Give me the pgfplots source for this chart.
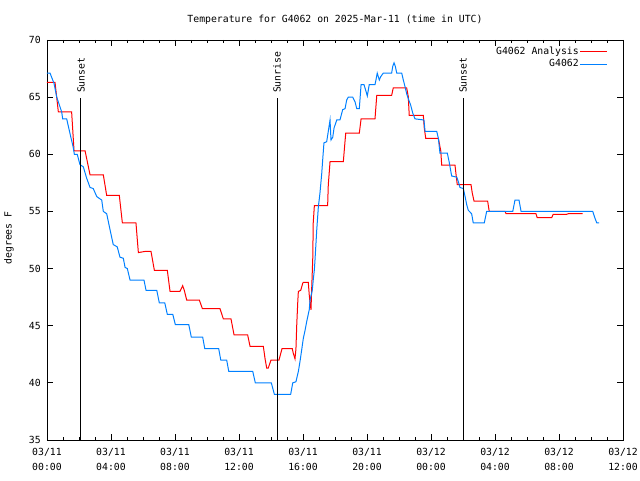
\documentclass[border=0pt]{standalone}
\usepackage{fontspec}
\setmainfont{DejaVu Sans Mono}
\usepackage{pgfplots}
\pgfplotsset{compat=1.18}
\definecolor{gred}{RGB}{255,0,0}
\definecolor{gblue}{RGB}{0,128,255}
\begin{document}
\fontsize{9.8}{11}\selectfont
\begin{tikzpicture}[x=1pt,y=1pt,font=\fontsize{9.8}{11}\selectfont]
\useasboundingbox (0,0) rectangle (640,480);
\begin{axis}[
  at={(47pt,40pt)}, anchor=south west,
  scale only axis, width=576pt, height=400pt,
  xmin=0, xmax=36, ymin=35, ymax=70,
  xtick={0,4,...,36}, minor x tick num=3,
  xticklabels={03/11\\00:00,03/11\\04:00,03/11\\08:00,03/11\\12:00,03/11\\16:00,03/11\\20:00,03/12\\00:00,03/12\\04:00,03/12\\08:00,03/12\\12:00},
  ytick={35,40,...,70},
  tick align=inside, major tick length=6pt, minor tick length=3pt,
  tick style={black, line width=0.8pt},
  axis line style={black, line width=0.8pt},
  /pgf/number format/assume math mode=true,
  xticklabel style={align=center, anchor=north, inner sep=0pt, yshift=-8pt, font=\fontsize{9.8}{15.5}\selectfont},
  yticklabel style={anchor=east, inner sep=0pt, xshift=-6pt},
  title={Temperature for G4062 on 2025-Mar-11 (time in UTC)},
  title style={at={(axis description cs:0.5,1)}, anchor=center, yshift=14pt},
  ylabel={degrees F},
  ylabel style={at={(axis description cs:-0.066,0.505)}, anchor=center},
  legend style={draw=none, fill=none, at={(axis description cs:0.979,0.99)}, anchor=north east, nodes={inner sep=1pt}, row sep=1.5pt},
  legend cell align=right, legend plot pos=right,
  legend image code/.code={\draw[#1] (0pt,0pt) -- (27pt,0pt);},
]
\addplot[gred, line width=1pt] coordinates {
(0,66.3) (0.50,66.3) (0.71,63.7) (1.54,63.7) (1.69,60.3) (2.38,60.3) (2.69,58.2) (3.52,58.2)
(3.73,56.4) (4.52,56.4) (4.71,54.0) (5.56,54.0) (5.71,51.4) (6.13,51.5) (6.50,51.5) (6.71,49.85)
(7.52,49.85) (7.69,48.0) (8.31,48.0) (8.48,48.5) (8.58,48.1) (8.73,47.25) (9.52,47.25) (9.71,46.5)
(10.81,46.5) (11.02,45.6) (11.50,45.6) (11.69,44.2) (12.54,44.2) (12.69,43.2) (13.52,43.2) (13.63,42.1)
(13.73,41.3) (13.83,41.3) (14.00,42.0) (14.50,42.0) (14.69,43.0) (15.33,43.0) (15.39,42.6) (15.50,42.1)
(15.56,43.0) (15.61,45.1) (15.67,47.0) (15.71,48.0) (15.86,48.1) (15.98,48.7) (16.02,48.8) (16.33,48.8)
(16.39,47.7) (16.44,47.0) (16.50,46.4) (16.54,48.1) (16.61,50.9) (16.64,54.0) (16.71,55.5) (17.54,55.5)
(17.58,57.3) (17.69,59.35) (18.52,59.35) (18.67,61.85) (19.52,61.85) (19.63,63.1) (20.50,63.1) (20.61,65.15)
(21.54,65.15) (21.64,65.8) (22.48,65.8) (22.58,65.05) (22.64,63.4) (23.52,63.4) (23.58,62.3) (23.67,61.4)
(24.46,61.4) (24.61,60.3) (24.67,59.05) (25.50,59.05) (25.56,58.3) (25.64,57.35) (26.50,57.35) (26.58,56.6)
(26.69,55.9) (27.54,55.9) (27.64,55.0) (28.63,55.0) (28.69,54.8) (30.56,54.8) (30.64,54.45) (31.54,54.45)
(31.64,54.75) (32.48,54.75) (32.58,54.8) (33.48,54.8)
};
\addlegendentry{G4062 Analysis}
\addplot[gblue, line width=1pt] coordinates {
(0,67.1) (0.19,67.1) (0.44,66.2) (0.61,65.0) (0.92,63.7) (0.98,63.1) (1.23,63.1) (1.44,61.8)
(1.64,60.6) (1.71,60.0) (1.89,60.0) (2.06,59.1) (2.27,58.9) (2.48,57.9) (2.69,57.1) (2.89,57.0)
(3.11,56.3) (3.31,56.1) (3.42,56.0) (3.52,55.0) (3.73,54.8) (3.94,53.4) (4.14,52.1) (4.39,51.9)
(4.56,51.0) (4.77,50.9) (4.88,50.1) (5.02,50.0) (5.19,49.0) (6.06,49.0) (6.19,48.1) (6.86,48.1)
(7.02,47.0) (7.36,47.0) (7.52,46.0) (7.86,46.0) (8.02,45.1) (8.86,45.1) (9.02,44.0) (9.73,44.0)
(9.86,43.0) (10.73,43.0) (10.86,42.0) (11.23,42.0) (11.36,41.0) (12.86,41.0) (13.02,40.0) (14.02,40.0)
(14.21,39.0) (15.23,39.0) (15.36,40.0) (15.56,40.1) (15.71,41.0) (15.81,41.85) (15.92,42.9) (16.02,43.9)
(16.13,44.6) (16.23,45.35) (16.39,46.4) (16.44,47.25) (16.58,48.1) (16.64,49.0) (16.71,49.9) (16.75,50.75)
(16.86,53.4) (16.96,55.4) (17.06,56.6) (17.17,58.3) (17.23,59.5) (17.31,61.0) (17.48,61.1) (17.58,62.0)
(17.69,63.0) (17.75,61.25) (17.86,61.5) (17.94,62.3) (18.11,63.0) (18.31,63.0) (18.48,63.9) (18.63,64.0)
(18.73,64.75) (18.83,65.0) (19.11,65.0) (19.25,64.6) (19.36,64.0) (19.52,64.0) (19.63,66.1) (19.81,66.1)
(19.94,65.5) (20.02,65.1) (20.14,66.1) (20.50,66.1) (20.56,66.5) (20.64,67.1) (20.77,66.5) (20.86,66.8)
(21.02,67.1) (21.54,67.1) (21.61,67.7) (21.69,68.0) (21.77,67.7) (21.86,67.1) (22.17,67.1) (22.27,66.5)
(22.38,65.9) (22.48,65.3) (22.61,64.75) (22.73,64.3) (22.86,63.6) (23.00,63.1) (23.56,63.0) (23.63,62.0)
(24.36,62.0) (24.46,61.4) (24.56,60.1) (25.02,60.1) (25.14,59.3) (25.29,58.1) (25.61,58.0) (25.71,57.6)
(25.81,57.1) (26.02,57.0) (26.13,56.3) (26.23,55.6) (26.33,55.1) (26.54,54.8) (26.64,54.0) (27.33,54.0)
(27.48,55.0) (29.11,55.0) (29.25,56.0) (29.50,56.0) (29.63,55.0) (34.11,55.0) (34.25,54.4) (34.36,54.0)
(34.50,54.0)
};
\addlegendentry{G4062}
\addplot[black, line width=1pt, forget plot] coordinates {(2.125,35) (2.125,64.9)};
\addplot[black, line width=1pt, forget plot] coordinates {(14.375,35) (14.375,64.9)};
\addplot[black, line width=1pt, forget plot] coordinates {(26.0,35) (26.0,64.9)};
\node[rotate=90, anchor=west, inner sep=0pt] at (axis cs:2.125,65.35) {Sunset};
\node[rotate=90, anchor=west, inner sep=0pt] at (axis cs:14.375,65.35) {Sunrise};
\node[rotate=90, anchor=west, inner sep=0pt] at (axis cs:26.0,65.35) {Sunset};
\end{axis}
\end{tikzpicture}
\end{document}
